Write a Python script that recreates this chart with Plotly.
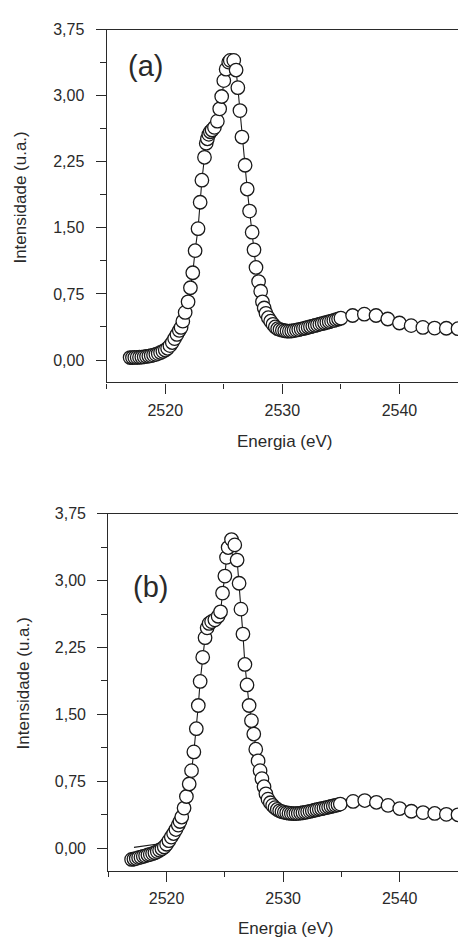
import plotly.graph_objects as go

# ---------------- data ----------------
energy_a = [2517.0, 2517.2, 2517.4, 2517.6, 2517.8, 2518.0, 2518.2, 2518.4, 2518.6, 2518.8,
            2519.0, 2519.2, 2519.4, 2519.6, 2519.8, 2520.0, 2520.2, 2520.4, 2520.6, 2520.8,
            2521.0, 2521.2, 2521.35, 2521.5, 2521.7, 2521.95, 2522.15, 2522.35, 2522.55, 2522.8,
            2522.98, 2523.13, 2523.35, 2523.5, 2523.6, 2523.72, 2523.85, 2524.0, 2524.2, 2524.45,
            2524.65, 2524.82, 2525.0, 2525.2, 2525.42, 2525.55, 2525.85, 2526.05, 2526.2, 2526.38,
            2526.55, 2526.82, 2527.0, 2527.2, 2527.42, 2527.58, 2527.75, 2527.97, 2528.15, 2528.3,
            2528.45, 2528.6, 2528.8, 2529.0, 2529.2, 2529.4, 2529.6, 2529.8, 2530.0, 2530.2,
            2530.4, 2530.6, 2530.8, 2531.0, 2531.2, 2531.4, 2531.6, 2531.8, 2532.0, 2532.2,
            2532.4, 2532.6, 2532.8, 2533.0, 2533.2, 2533.4, 2533.6, 2533.8, 2534.0, 2534.2,
            2534.4, 2534.6, 2534.8, 2535.0, 2536.0, 2537.0, 2538.0, 2539.0, 2540.0, 2541.0,
            2542.0, 2543.0, 2544.0, 2545.0]
intensity_a = [0.028, 0.028, 0.029, 0.030, 0.031, 0.033, 0.036, 0.040, 0.045, 0.050,
               0.056, 0.064, 0.073, 0.085, 0.098, 0.113, 0.133, 0.163, 0.198, 0.243,
               0.290, 0.335, 0.370, 0.440, 0.540, 0.660, 0.820, 0.990, 1.240, 1.490,
               1.790, 2.040, 2.300, 2.460, 2.510, 2.560, 2.590, 2.610, 2.640, 2.710,
               2.850, 2.990, 3.170, 3.300, 3.380, 3.400, 3.400, 3.290, 3.090, 2.830,
               2.530, 2.210, 1.940, 1.690, 1.450, 1.250, 1.050, 0.890, 0.780, 0.660,
               0.590, 0.530, 0.480, 0.440, 0.405, 0.375, 0.355, 0.345, 0.338, 0.332,
               0.328, 0.327, 0.330, 0.334, 0.339, 0.345, 0.351, 0.357, 0.364, 0.371,
               0.378, 0.385, 0.392, 0.399, 0.406, 0.413, 0.420, 0.427, 0.434, 0.441,
               0.449, 0.457, 0.465, 0.475, 0.505, 0.520, 0.505, 0.465, 0.420, 0.390,
               0.370, 0.362, 0.360, 0.355]

energy_b = [2517.0, 2517.2, 2517.4, 2517.6, 2517.8, 2518.0, 2518.2, 2518.4, 2518.6, 2518.8,
            2519.0, 2519.2, 2519.4, 2519.6, 2519.8, 2520.0, 2520.2, 2520.4, 2520.6, 2520.8,
            2521.0, 2521.15, 2521.3, 2521.5, 2521.7, 2521.94, 2522.14, 2522.34, 2522.55, 2522.72,
            2522.88, 2523.1, 2523.3, 2523.48, 2523.65, 2523.86, 2524.14, 2524.42, 2524.63, 2524.8,
            2525.0, 2525.14, 2525.28, 2525.57, 2525.85, 2526.05, 2526.22, 2526.38, 2526.55, 2526.72,
            2526.9, 2527.08, 2527.28, 2527.48, 2527.65, 2527.85, 2528.02, 2528.18, 2528.36, 2528.52,
            2528.7, 2528.9, 2529.1, 2529.3, 2529.5, 2529.7, 2529.9, 2530.1, 2530.3, 2530.5,
            2530.7, 2530.9, 2531.1, 2531.3, 2531.5, 2531.7, 2531.9, 2532.1, 2532.3, 2532.5,
            2532.7, 2532.9, 2533.1, 2533.3, 2533.5, 2533.7, 2533.9, 2534.1, 2534.3, 2534.5,
            2534.7, 2534.9, 2536.0, 2537.0, 2538.0, 2539.0, 2540.0, 2541.0, 2542.0, 2543.0,
            2544.0, 2545.0]
intensity_b = [-0.125, -0.120, -0.115, -0.105, -0.100, -0.090, -0.085, -0.075, -0.068, -0.060,
               -0.050, -0.037, -0.022, -0.005, 0.015, 0.045, 0.085, 0.125, 0.165, 0.210,
               0.260, 0.300, 0.350, 0.450, 0.580, 0.720, 0.870, 1.080, 1.340, 1.600,
               1.870, 2.140, 2.360, 2.470, 2.520, 2.540, 2.560, 2.600, 2.650, 2.860,
               3.050, 3.260, 3.370, 3.460, 3.400, 3.230, 2.970, 2.680, 2.400, 2.060,
               1.830, 1.600, 1.430, 1.280, 1.110, 0.980, 0.870, 0.780, 0.690, 0.610,
               0.550, 0.510, 0.480, 0.455, 0.435, 0.420, 0.410, 0.403, 0.397, 0.393,
               0.390, 0.389, 0.389, 0.391, 0.394, 0.398, 0.403, 0.408, 0.414, 0.420,
               0.426, 0.432, 0.438, 0.444, 0.450, 0.456, 0.462, 0.468, 0.474, 0.480,
               0.487, 0.495, 0.525, 0.535, 0.515, 0.480, 0.445, 0.415, 0.400, 0.390,
               0.380, 0.375]

# guide line of panel (b) in the pre-edge region (it runs above the circles there)
line_b_pre_energy = [2517.2, 2517.8, 2518.4, 2519.0, 2519.4, 2519.8]
line_b_pre_intensity = [0.010, 0.020, 0.030, 0.040, 0.050, 0.065]

x_tick_vals = [2520, 2530, 2540]
x_tick_text = ["2520", "2530", "2540"]
x_minor_vals = [2515, 2525, 2535, 2545]
y_tick_vals = [0.0, 0.75, 1.5, 2.25, 3.0, 3.75]
y_tick_text = ["0,00", "0,75", "1,50", "2,25", "3,00", "3,75"]
y_minor_vals = [0.375, 1.125, 1.875, 2.625, 3.375]

assert len(energy_a) == len(intensity_a)
assert len(energy_b) == len(intensity_b)

# ---------------- figure ----------------
W, H = 458, 937
INK = "#2a2a2a"
FONT = "Liberation Sans, Arial, Helvetica, sans-serif"

marker_style = dict(symbol="circle", size=13.5, color="white", line=dict(color="#1a1a1a", width=1.3))
line_style = dict(color="#1a1a1a", width=1.1)

fig = go.Figure()

fig.add_trace(go.Scatter(x=energy_a, y=intensity_a, mode="lines+markers",
                         marker=marker_style, line=line_style,
                         xaxis="x", yaxis="y", showlegend=False))

start_idx = energy_b.index(2520.2)
fig.add_trace(go.Scatter(x=line_b_pre_energy + energy_b[start_idx:],
                         y=line_b_pre_intensity + intensity_b[start_idx:],
                         mode="lines", line=line_style,
                         xaxis="x2", yaxis="y2", showlegend=False))
fig.add_trace(go.Scatter(x=energy_b, y=intensity_b, mode="markers",
                         marker=marker_style,
                         xaxis="x2", yaxis="y2", showlegend=False))


def xaxis_cfg(domain, anchor):
    return dict(domain=domain, anchor=anchor, range=[2515, 2545],
                tickmode="array", tickvals=x_tick_vals, ticktext=x_tick_text,
                ticks="outside", ticklen=10, tickwidth=1.2, tickcolor=INK,
                showline=True, linecolor=INK, linewidth=1.3, mirror=True,
                showgrid=False, zeroline=False,
                tickfont=dict(family=FONT, size=16, color=INK),
                ticklabelstandoff=3,
                minor=dict(tickmode="array", tickvals=x_minor_vals, ticks="outside",
                           ticklen=5.5, tickwidth=1.2, tickcolor=INK, showgrid=False))


def yaxis_cfg(domain, anchor, rng):
    return dict(domain=domain, anchor=anchor, range=rng,
                tickmode="array", tickvals=y_tick_vals, ticktext=y_tick_text,
                ticks="outside", ticklen=10, tickwidth=1.2, tickcolor=INK,
                showline=True, linecolor=INK, linewidth=1.3, mirror=False,
                showgrid=False, zeroline=False,
                tickfont=dict(family=FONT, size=16, color=INK),
                ticklabelstandoff=8,
                minor=dict(tickmode="array", tickvals=y_minor_vals, ticks="outside",
                           ticklen=6, tickwidth=1.2, tickcolor=INK, showgrid=False))


fig.update_layout(
    width=W, height=H,
    margin=dict(l=0, r=0, t=0, b=0),
    paper_bgcolor="white", plot_bgcolor="white",
    xaxis=xaxis_cfg([106.7 / W, 1.0], "y"),
    yaxis=yaxis_cfg([1 - 377.7 / H, 1 - 21.7 / H], "x", [-0.255, 3.75]),
    xaxis2=xaxis_cfg([108.3 / W, 1.0], "y2"),
    yaxis2=yaxis_cfg([1 - 870.0 / H, 1 - 510.0 / H], "x2", [-0.25, 3.75]),
)

annotations = [
    dict(text="Intensidade (u.a.)", x=20.5 / W, y=1 - 191.7 / H, textangle=-90, size=17),
    dict(text="Energia (eV)", x=284.5 / W, y=1 - 437.0 / H, textangle=0, size=17),
    dict(text="Intensidade (u.a.)", x=23.5 / W, y=1 - 681.7 / H, textangle=-90, size=17),
    dict(text="Energia (eV)", x=285.0 / W, y=1 - 928.5 / H, textangle=0, size=17),
    dict(text="(a)", x=145.8 / W, y=1 - 58.5 / H, textangle=0, size=29),
    dict(text="(b)", x=150.0 / W, y=1 - 584.0 / H, textangle=0, size=29),
]
for a in annotations:
    fig.add_annotation(text=a["text"], x=a["x"], y=a["y"], xref="paper", yref="paper",
                       xanchor="center", yanchor="middle", showarrow=False,
                       textangle=a["textangle"],
                       font=dict(family=FONT, size=a["size"], color=INK))

fig.write_html("out.html")
